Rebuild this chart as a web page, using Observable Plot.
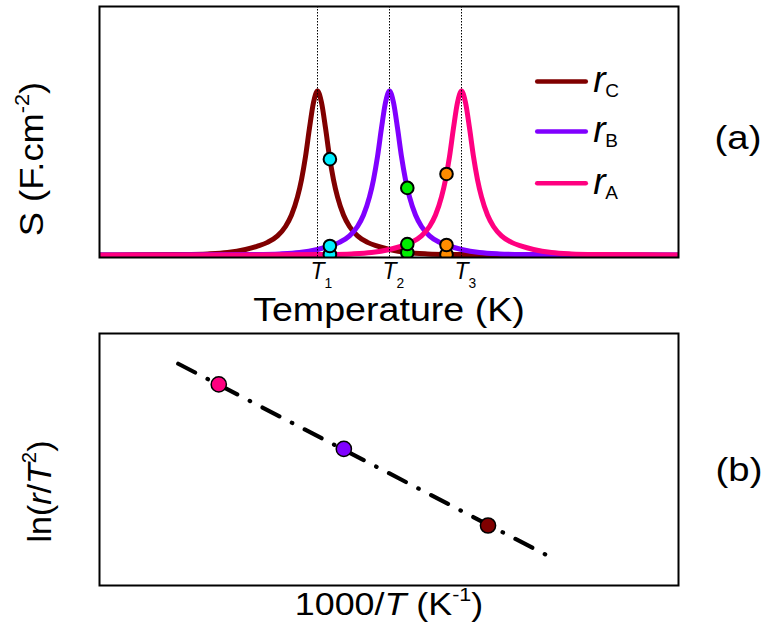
<!DOCTYPE html>
<html>
<head>
<meta charset="utf-8">
<script src="https://cdn.jsdelivr.net/npm/d3@7"></script>
<script src="https://cdn.jsdelivr.net/npm/@observablehq/plot@0.6"></script>
<style>
  html, body { margin: 0; padding: 0; background: #fff; }
  #chart { width: 763px; height: 630px; overflow: hidden; }
  #chart svg { display: block; }
</style>
</head>
<body>
<div id="chart"></div>
<script>
// ---------- DATA ----------
// Panel (a): S vs Temperature for three heating rates
const seriesNames = ["C", "B", "A"];
const peakTemps = [309, 345, 381];
const peakLabels = ["1", "2", "3"];

const tempC = [200, 219, 239, 254, 264, 273, 279, 284, 289, 293, 296, 299, 301, 303, 305, 307, 309, 311, 313, 315, 317, 319, 322, 325, 329, 334, 339, 345, 354, 364, 379, 399, 429, 459, 489.5];
const sC    = [0.0013, 0.002, 0.004, 0.008, 0.016, 0.035, 0.055, 0.078, 0.118, 0.175, 0.245, 0.355, 0.460, 0.600, 0.775, 0.930, 1.000, 0.930, 0.775, 0.600, 0.460, 0.355, 0.245, 0.175, 0.118, 0.078, 0.055, 0.035, 0.016, 0.008, 0.004, 0.002, 0.001, 0.0006, 0.0004];

const tempB = [200, 225, 255, 275, 290, 300, 309, 315, 320, 325, 329, 332, 335, 337, 339, 341, 343, 345, 347, 349, 351, 353, 355, 358, 361, 365, 370, 375, 381, 390, 400, 415, 435, 465, 489.5];
const sB    = [0.0005, 0.001, 0.002, 0.004, 0.008, 0.016, 0.035, 0.055, 0.078, 0.118, 0.175, 0.245, 0.355, 0.460, 0.600, 0.775, 0.930, 1.000, 0.930, 0.775, 0.600, 0.460, 0.355, 0.245, 0.175, 0.118, 0.078, 0.055, 0.035, 0.016, 0.008, 0.004, 0.002, 0.001, 0.0005];

const tempA = [200, 231, 261, 291, 311, 326, 336, 345, 351, 356, 361, 365, 368, 371, 373, 375, 377, 379, 381, 383, 385, 387, 389, 391, 394, 397, 401, 406, 411, 417, 426, 436, 451, 471, 489.5];
const sA    = [0.0004, 0.0006, 0.001, 0.002, 0.004, 0.008, 0.016, 0.035, 0.055, 0.078, 0.118, 0.175, 0.245, 0.355, 0.460, 0.600, 0.775, 0.930, 1.000, 0.930, 0.775, 0.600, 0.460, 0.355, 0.245, 0.175, 0.118, 0.078, 0.055, 0.035, 0.016, 0.008, 0.004, 0.002, 0.0013];

// marked temperatures (cyan, green, orange) and S read on each curve
const markTemps = [315.2, 353.9, 373.5];
const markOnC = [0.585, 0.016, 0.005];
const markOnB = [0.056, 0.41, 0.062];
const markOnA = [0.005, 0.068, 0.495];

// Panel (b): ln(r/T^2) vs 1000/T (arbitrary units), points for rA, rB, rC
const pointNames = ["A", "B", "C"];
const invTemp = [2.06, 4.22, 6.71];
const lnRate  = [7.98, 5.42, 2.38];
const fitInvT = [1.36, 7.71];
const fitLn   = [8.80, 1.22];

// ---------- STYLE ----------
const FONT = "'Liberation Sans', Arial, Helvetica, sans-serif";
const seriesColor = { C: "#800000", B: "#8000ff", A: "#ff0080" };
const markColors = ["#00eeff", "#00ee00", "#ff8c00"];
const legendS = [1.058, 0.753, 0.439];

const curves = [
  { name: "C", T: tempC, S: sC },
  { name: "B", T: tempB, S: sB },
  { name: "A", T: tempA, S: sA }
];

// ---------- PANEL (a) ----------
const marksA = [];
for (const c of curves) {
  marksA.push(Plot.line(c.T.map((t, i) => ({ t, s: c.S[i] })), {
    x: "t", y: "s", stroke: seriesColor[c.name], strokeWidth: 5,
    curve: "monotone-x", clip: true
  }));
}
marksA.push(Plot.ruleX(peakTemps, { x: d => d, stroke: "black", strokeWidth: 1, strokeDasharray: "1.5,1.5" }));
markTemps.forEach((t, k) => {
  const pts = [
    { t, s: markOnC[k] }, { t, s: markOnB[k] }, { t, s: markOnA[k] }
  ].sort((a, b) => a.s - b.s);
  marksA.push(Plot.dot(pts, { x: "t", y: "s", r: 6.3, fill: markColors[k], stroke: "black", strokeWidth: 2, clip: true }));
});
marksA.push(Plot.frame({ stroke: "black", strokeWidth: 2 }));
// legend
seriesNames.forEach((name, i) => {
  marksA.push(Plot.ruleY([legendS[i]], { y: d => d, x1: 419.1, x2: 443.4, stroke: seriesColor[name], strokeWidth: 4.5, strokeLinecap: "round" }));
  marksA.push(Plot.text([name], { x: () => 443.4, y: () => legendS[i], text: () => "r", fontStyle: "italic", fontSize: 37, textAnchor: "start", lineAnchor: "bottom", dx: 7, dy: 10.7 }));
  marksA.push(Plot.text([name], { x: () => 443.4, y: () => legendS[i], text: d => d, fontSize: 19, textAnchor: "start", lineAnchor: "bottom", dx: 19, dy: 15.7 }));
});
// tick labels T1, T2, T3 (italic T with subscript)
marksA.push(Plot.text(peakTemps, { x: d => d, text: (d, i) => `*T*_{${peakLabels[i]}}`, frameAnchor: "bottom", fontSize: 23, textAnchor: "start", lineAnchor: "bottom", dx: -7, dy: 21 }));
// axis labels
marksA.push(Plot.text(["Temperature (K)"], { text: d => d, frameAnchor: "bottom", fontSize: 33, textAnchor: "middle", lineAnchor: "bottom", dy: 63.5 }));
marksA.push(Plot.text(["S (F.cm^{-2})"], { text: d => d, frameAnchor: "left", rotate: -90, fontSize: 33, textAnchor: "middle", lineAnchor: "bottom", dx: -57, dy: 27 }));
marksA.push(Plot.text(["(a)"], { text: d => d, frameAnchor: "right", fontSize: 33, textAnchor: "middle", lineAnchor: "bottom", dx: 59.5, dy: 17 }));

const plotA = Plot.plot({
  width: 763, height: 330,
  marginTop: 6, marginBottom: 73, marginLeft: 99, marginRight: 85,
  x: { domain: [200, 489.5], axis: null },
  y: { domain: [-0.014, 1.515], axis: null },
  style: { fontFamily: FONT, background: "white", overflow: "visible", color: "black" },
  marks: marksA
});

// ---------- PANEL (b) ----------
const pointColor = { A: "#ff0080", B: "#8000ff", C: "#800000" };
const marksB = [];
marksB.push(Plot.line(fitInvT.map((x, i) => ({ x, y: fitLn[i] })), {
  x: "x", y: "y", stroke: "black", strokeWidth: 4.2,
  strokeDasharray: "19,14,0.5,14", strokeLinecap: "round"
}));
pointNames.forEach((name, i) => {
  marksB.push(Plot.dot([{ x: invTemp[i], y: lnRate[i] }], { x: "x", y: "y", r: 7.6, fill: pointColor[name], stroke: "black", strokeWidth: 1.5 }));
});
marksB.push(Plot.frame({ stroke: "black", strokeWidth: 2 }));
marksB.push(Plot.text(["1000/*T* (K^{-1})"], { text: d => d, frameAnchor: "bottom", fontSize: 32, textAnchor: "middle", lineAnchor: "bottom", dy: 29.3 }));
marksB.push(Plot.text(["ln(*r*/*T*^{2})"], { text: d => d, frameAnchor: "left", rotate: -90, fontSize: 34, textAnchor: "middle", lineAnchor: "bottom", dx: -49, dy: 32 }));
marksB.push(Plot.text(["(b)"], { text: d => d, frameAnchor: "right", fontSize: 33, textAnchor: "middle", lineAnchor: "bottom", dx: 60.5, dy: 21 }));

const plotB = Plot.plot({
  width: 763, height: 300,
  marginTop: 3, marginBottom: 45, marginLeft: 99, marginRight: 85,
  x: { domain: [0, 10], axis: null },
  y: { domain: [0, 10], axis: null },
  style: { fontFamily: FONT, background: "white", overflow: "visible", color: "black" },
  marks: marksB
});

const chart = document.getElementById("chart");
chart.append(plotA, plotB);

// ---------- rich text: *italic*, ^{sup}, _{sub}; optional horizontal stretch ----------
function richify(svg, opts) {
  d3.select(svg).selectAll("text").each(function () {
    const s = this.textContent;
    const f = opts.stretch[s];
    if (f) {
      const tr = this.getAttribute("transform") || "";
      this.setAttribute("transform", `${tr} scale(${f},1)`);
    }
    if (!/[*^_]/.test(s)) return;
    const base = parseFloat(getComputedStyle(this).fontSize) || 30;
    const re = /\*([^*]+)\*|\^\{([^}]*)\}|_\{([^}]*)\}|([^*^_]+)/g;
    const tokens = [];
    let m;
    while ((m = re.exec(s))) {
      if (m[1] != null) tokens.push({ t: m[1], italic: true, shift: 0 });
      else if (m[2] != null) tokens.push({ t: m[2], shift: -1 });
      else if (m[3] != null) tokens.push({ t: m[3], shift: 1 });
      else tokens.push({ t: m[4], shift: 0 });
    }
    const el = d3.select(this);
    el.text(null);
    let cur = 0;
    for (const tk of tokens) {
      const target = tk.shift === -1 ? -opts.supShift * base : tk.shift === 1 ? opts.subShift * base : 0;
      const ts = el.append("tspan").text(tk.t);
      if (target !== cur) { ts.attr("dy", target - cur); cur = target; }
      if (tk.shift === -1) ts.attr("font-size", opts.supSize * base);
      if (tk.shift === 1) ts.attr("font-size", opts.subSize * base);
      if (tk.italic) ts.attr("font-style", "italic");
    }
  });
}
richify(plotA, {
  supShift: 0.42, supSize: 0.6, subShift: 0.42, subSize: 0.6,
  stretch: { "Temperature (K)": 1.14, "(a)": 1.16, "S (F.cm^{-2})": 1.1 }
});
richify(plotB, {
  supShift: 0.42, supSize: 0.6, subShift: 0.3, subSize: 0.6,
  stretch: { "1000/*T* (K^{-1})": 1.12, "(b)": 1.16 }
});
</script>
</body>
</html>
